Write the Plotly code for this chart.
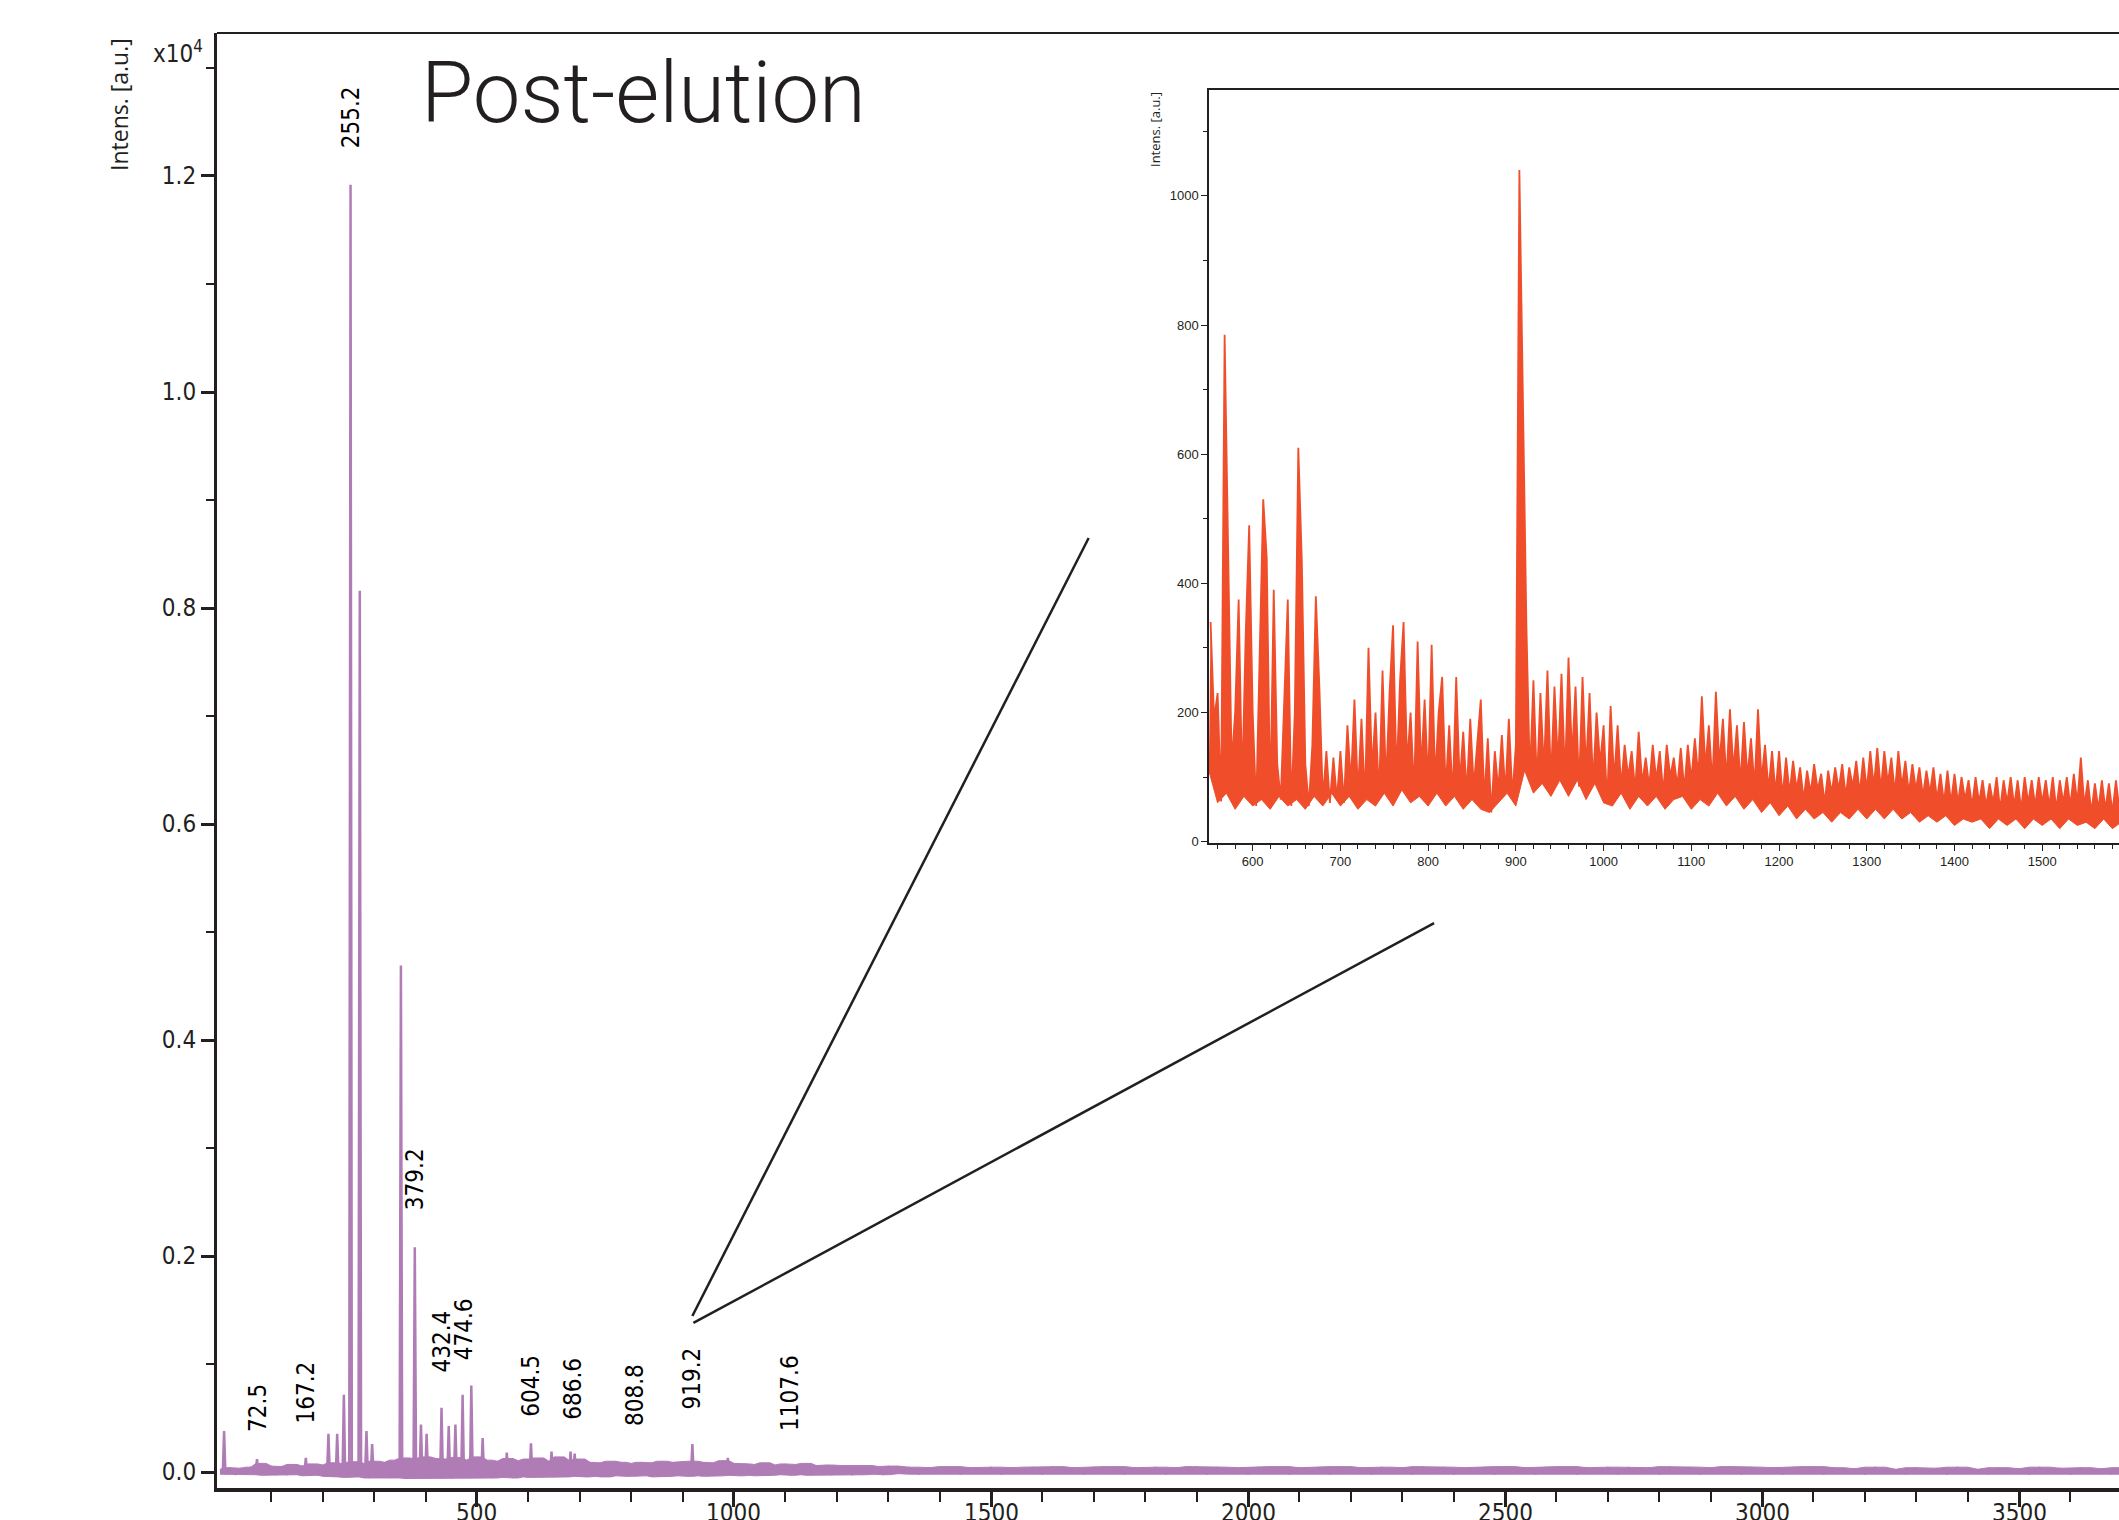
import numpy as np
import plotly.graph_objects as go

W, H = 2119, 1520
PURPLE = "#b07cb6"
RED = "#f04e2b"
INK = "#231f20"
NARROW = "Liberation Sans Narrow, DejaVu Sans Condensed, Arial Narrow, Liberation Sans, sans-serif"

# ---------------- main spectrum (counts) ----------------
main_base_mz = list(range(0, 1301, 10)) + list(range(1320, 3701, 20))
main_base_int = (
    [25, -20, 40, -25, 35, -20, 45, -25, 80, -30, 55]
    + [-25, 50, -30, 70, -25, 55, -35, 75, -30, 65]
    + [-40, 85, -45, 75, -50, 95, -45, 80, -55, 100]
    + [-50, 90, -55, 110, -55, 130, -60, 120, -60, 140]
    + [-55, 125, -60, 120, -60, 135, -55, 110, -55, 140]
    + [-55, 110, -55, 100, -50, 125, -55, 105, -45, 120]
    + [-50, 130, -45, 100, -50, 140, -45, 105, -40, 120]
    + [-45, 90, -40, 85, -45, 100, -35, 90, -40, 80]
    + [-40, 90, -35, 85, -45, 100, -40, 90, -35, 95]
    + [-40, 100, -35, 90, -40, 85, -35, 105, -30, 80]
    + [-35, 75, -30, 70, -35, 85, -30, 65, -25, 75]
    + [-30, 70, -25, 80, -30, 60, -25, 65, -30, 60]
    + [-25, 60, -30, 55, -25, 60, -20, 50, -25, 55]
    + [-15, 45, -20, 40, -15, 50, -20, 40, -15, 45]
    + [-20, 40, -15, 45, -20, 50, -15, 40, -20, 45]
    + [-15, 50, -20, 40, -15, 45, -20, 40, -15, 50]
    + [-20, 45, -15, 40, -20, 45, -15, 50, -20, 40]
    + [-15, 45, -20, 50, -15, 40, -20, 45, -15, 40]
    + [-20, 50, -15, 45, -20, 40, -15, 45, -20, 50]
    + [-15, 40, -20, 45, -15, 50, -20, 40, -15, 45]
    + [-20, 45, -15, 40, -20, 50, -15, 45, -20, 40]
    + [-15, 50, -20, 45, -15, 40, -20, 45, -15, 50]
    + [-20, 40, -15, 30, -20, 45, -15, 25, -20, 40]
    + [-15, 35, -20, 45, -15, 25, -20, 40, -15, 30]
    + [-20, 45, -15, 35, -20, 40, -15, 30, -20, 40]
)

main_peak_mz = [8, 72, 167, 211, 228, 241, 254, 272, 285, 296, 352, 379, 391, 402,
                431, 445, 458, 472, 489, 511, 558, 605, 645, 682, 690, 919, 988]
main_peak_int = [380, 120, 130, 355, 355, 715, 11920, 8160, 380, 260, 4690, 2080, 440, 355,
                 595, 425, 440, 715, 800, 315, 180, 265, 190, 190, 170, 260, 130]

main_xticks = [500, 1000, 1500, 2000, 2500, 3000, 3500]

label_text = ["72.5", "167.2", "255.2", "379.2", "432.4", "474.6",
              "604.5", "686.6", "808.8", "919.2", "1107.6"]
label_mz = [72.5, 167.2, 255.2, 379.2, 432.4, 474.6, 604.5, 686.6, 808.8, 919.2, 1107.6]
label_base = [355, 430, 12240, 2405, 905, 1015, 490, 465, 405, 565, 365]

# ---------------- inset spectrum (counts) ----------------
inset_int = (
    [340, 190, 230, 62, 785, 455, 120, 200, 375, 85, 320, 490, 200]
    + [55, 300, 530, 440, 60, 390, 120, 65, 230, 375, 55, 200, 610, 435, 120, 55, 150, 380, 240, 65, 140, 60, 130, 65, 140]
    + [60, 180, 90, 220, 75, 190, 65, 300, 110, 200, 70, 265, 90, 230, 335, 100, 250, 340, 120, 200, 75, 310, 110, 220, 90]
    + [305, 95, 200, 255, 80, 180, 70, 255, 90, 170, 75, 190, 85, 150, 220, 65, 160, 45, 140, 80, 165, 75, 190, 70, 150]
    + [1040, 680, 335, 100, 250, 90, 230, 110, 265, 95, 240, 120, 260, 100, 285, 130, 240, 85, 255, 110, 230, 90, 200, 120, 180]
    + [60, 210, 95, 180, 85, 150, 100, 140, 80, 170, 90, 130, 85, 150, 95, 140, 75, 150, 100, 130, 85, 145, 80, 150, 95]
    + [160, 100, 225, 115, 180, 90, 232, 120, 190, 95, 205, 110, 180, 90, 185, 100, 160, 85, 205, 95, 150, 80, 140, 75, 140]
    + [70, 130, 75, 125, 80, 115, 65, 110, 75, 120, 80, 105, 60, 110, 75, 115, 80, 120, 70, 115, 85, 125, 75, 130, 80]
    + [140, 85, 145, 80, 140, 90, 130, 75, 140, 85, 125, 75, 120, 80, 115, 70, 110, 75, 115, 65, 105, 60, 110, 60, 105]
    + [60, 100, 65, 95, 55, 100, 60, 95, 55, 90, 60, 100, 50, 95, 60, 100, 55, 95, 50, 100, 60, 95, 55, 100, 60]
    + [95, 55, 100, 50, 95, 60, 100, 55, 105, 60, 130, 55, 95, 45, 90, 50, 95, 50, 90, 45, 95, 50]
)
inset_mz = list(range(552, 552 + 4 * len(inset_int), 4))

# lower edge of the noise band in the inset, read every 10 m/z
inset_floor_mz = list(range(550, 1591, 10))
inset_floor = (
    [110, 60, 75, 50, 70, 55, 65, 50, 70, 55]
    + [65, 50, 70, 55, 75, 55, 70, 50, 65, 55]
    + [75, 55, 80, 60, 70, 55, 75, 55, 70, 50]
    + [65, 50, 45, 60, 75, 55, 110, 75, 90, 70]
    + [95, 70, 95, 65, 90, 60, 55, 75, 50, 70]
    + [55, 70, 50, 65, 70, 50, 65, 55, 75, 55]
    + [70, 50, 65, 45, 60, 40, 55, 35, 50, 35]
    + [45, 30, 45, 35, 50, 35, 50, 35, 50, 35]
    + [45, 30, 40, 30, 40, 25, 35, 30, 35, 20]
    + [35, 25, 35, 20, 35, 25, 35, 20, 35, 25]
    + [30, 20, 35, 20, 30]
)

SCALE = 1e4  # main axis shows intensity x10^4


def running(vals, fn):
    """Envelope of a noisy trace: fn over each point and its two neighbours."""
    v = np.asarray(vals, dtype=float)
    p = np.concatenate([[v[0]], v, [v[-1]]])
    return fn(fn(p[:-2], p[1:-1]), p[2:])


fig = go.Figure()

# main baseline noise drawn as a solid band
main_y = np.array(main_base_int) / SCALE
fig.add_trace(go.Scatter(x=main_base_mz, y=running(main_y, np.minimum), mode="lines",
                         line=dict(color=PURPLE, width=1), xaxis="x", yaxis="y", hoverinfo="skip"))
fig.add_trace(go.Scatter(x=main_base_mz, y=running(main_y, np.maximum), mode="lines",
                         line=dict(color=PURPLE, width=1), fill="tonexty", fillcolor=PURPLE,
                         xaxis="x", yaxis="y", hoverinfo="skip"))
fig.add_trace(go.Scatter(x=main_base_mz, y=main_y, mode="lines",
                         line=dict(color=PURPLE, width=1.2), xaxis="x", yaxis="y", hoverinfo="skip"))

px, py = [], []
for m, h in zip(main_peak_mz, main_peak_int):
    px += [m - 2.5, m, m + 2.5, None]
    py += [0, h / SCALE, 0, None]
fig.add_trace(go.Scatter(x=px, y=py, mode="lines", line=dict(color=PURPLE, width=2.5),
                         xaxis="x", yaxis="y", hoverinfo="skip"))

# inset spectrum: spikes filled down to the noise floor
fig.add_trace(go.Scatter(x=inset_floor_mz, y=inset_floor, mode="lines",
                         line=dict(color=RED, width=1), xaxis="x2", yaxis="y2", hoverinfo="skip"))
fig.add_trace(go.Scatter(x=inset_mz, y=inset_int, mode="lines",
                         line=dict(color=RED, width=1.8), fill="tonexty", fillcolor=RED,
                         xaxis="x2", yaxis="y2", hoverinfo="skip"))

annotations = []
for t, m, b in zip(label_text, label_mz, label_base):
    annotations.append(dict(x=m, y=b / SCALE, xref="x", yref="y", text=t, textangle=-90,
                            showarrow=False, xanchor="center", yanchor="bottom",
                            font=dict(family=NARROW, size=24, color="#000000")))

# main x tick labels (partly cut by the lower edge of the picture, as in the original)
for v in main_xticks:
    annotations.append(dict(x=v, y=1 - 1497 / H, xref="x", yref="paper", text=str(v),
                            showarrow=False, xanchor="center", yanchor="top",
                            font=dict(family=NARROW, size=24, color=INK)))

annotations += [
    dict(x=643.5 / W, y=1 - 93 / H, xref="paper", yref="paper", text="Post-elution",
         showarrow=False, xanchor="center", yanchor="middle",
         font=dict(family="Roboto, Liberation Sans, sans-serif", size=85, color=INK, weight=300)),
    dict(x=119 / W, y=1 - 105 / H, xref="paper", yref="paper", text="Intens. [a.u.]",
         textangle=-90, showarrow=False, xanchor="center", yanchor="middle",
         font=dict(family="Open Sans, sans-serif", size=23, color=INK)),
    dict(x=178 / W, y=1 - 52 / H, xref="paper", yref="paper", text="x10<sup>4</sup>",
         showarrow=False, xanchor="center", yanchor="middle",
         font=dict(family=NARROW, size=24, color=INK)),
    dict(x=1155 / W, y=1 - 129 / H, xref="paper", yref="paper", text="Intens. [a.u.]",
         textangle=-90, showarrow=False, xanchor="center", yanchor="middle",
         font=dict(family="Open Sans, sans-serif", size=13, color=INK)),
]

shapes = [
    dict(type="line", xref="paper", yref="paper", x0=217 / W, x1=1, y0=1 - 33 / H, y1=1 - 33 / H,
         line=dict(color=INK, width=2)),
    dict(type="line", xref="x", yref="y", x0=919, y0=0.1445, x1=1690, y1=0.8648,
         line=dict(color=INK, width=2.5)),
    dict(type="line", xref="x", yref="y", x0=921, y0=0.138, x1=2362, y1=0.5083,
         line=dict(color=INK, width=2.5)),
]

fig.update_layout(
    width=W, height=H, autosize=False,
    margin=dict(l=0, r=0, t=0, b=0, pad=0),
    paper_bgcolor="white", plot_bgcolor="white", showlegend=False,
    annotations=annotations, shapes=shapes,
    xaxis=dict(domain=[217 / W, 1], range=[-5.8, 3694.5], anchor="y", automargin=False,
               showline=True, linewidth=3.5, linecolor=INK, showgrid=False, zeroline=False,
               ticks="outside", ticklen=15, tickwidth=2.5, tickcolor=INK,
               tickmode="array", tickvals=main_xticks, showticklabels=False,
               minor=dict(tickmode="array",
                          tickvals=[v for v in range(100, 3700, 100) if v % 500],
                          ticks="outside", ticklen=10, tickwidth=2, tickcolor=INK, showgrid=False)),
    yaxis=dict(domain=[(H - 1488) / H, (H - 33) / H], range=[-0.0148, 1.3324], anchor="x",
               automargin=False,
               showline=True, linewidth=3, linecolor=INK, showgrid=False, zeroline=False,
               ticks="outside", ticklen=13, tickwidth=2.5, tickcolor=INK,
               tickmode="linear", tick0=0, dtick=0.2, tickformat=".1f",
               tickfont=dict(family=NARROW, size=24, color=INK),
               minor=dict(tick0=0, dtick=0.1, ticks="outside", ticklen=8, tickwidth=2,
                          tickcolor=INK, showgrid=False)),
    xaxis2=dict(domain=[1209 / W, 1], range=[550.2, 1587.5], anchor="y2", automargin=False,
                showline=True, mirror=True, linewidth=1.5, linecolor=INK, showgrid=False,
                zeroline=False, ticks="outside", ticklen=6, tickwidth=1.2, tickcolor=INK,
                tickmode="linear", tick0=0, dtick=100,
                tickfont=dict(family="Liberation Sans, Arial, sans-serif", size=13, color=INK),
                minor=dict(tick0=0, dtick=20, ticks="outside", ticklen=4, tickwidth=1,
                           tickcolor=INK, showgrid=False)),
    yaxis2=dict(domain=[(H - 843) / H, (H - 90) / H], range=[-2.2, 1164], anchor="x2",
                automargin=False,
                showline=True, linewidth=1.5, linecolor=INK, showgrid=False, zeroline=False,
                ticks="outside", ticklen=6, tickwidth=1.2, tickcolor=INK,
                tickmode="linear", tick0=0, dtick=200,
                tickfont=dict(family="Liberation Sans, Arial, sans-serif", size=13, color=INK),
                minor=dict(tick0=0, dtick=100, ticks="outside", ticklen=4, tickwidth=1,
                           tickcolor=INK, showgrid=False)),
)

fig.write_html("out.html")
